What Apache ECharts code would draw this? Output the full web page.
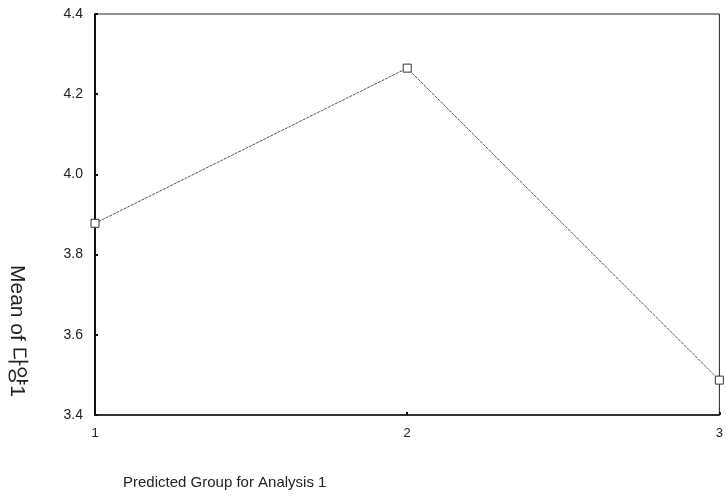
<!DOCTYPE html>
<html><head><meta charset="utf-8">
<script src="https://cdn.jsdelivr.net/npm/echarts@6/dist/echarts.min.js"></script>
<style>html,body{margin:0;padding:0;background:#fff}#c{width:726px;height:499px}</style>
</head><body><div id="c"></div>
<script>
const categories = ['1', '2', '3'];
const meanValues = [3.878, 4.265, 3.487];
const yTicks = [3.4, 3.6, 3.8, 4.0, 4.2, 4.4];
const xTitle = 'Predicted Group for Analysis 1';
const yTitle = 'Mean of 다양1';

const chart = echarts.init(document.getElementById('c'));
const font = 'Liberation Sans, Arial, sans-serif';
chart.setOption({
  animation: false,
  backgroundColor: '#fff',
  grid: { left: 95, right: 3, top: 14, bottom: 84, show: true, borderColor: '#222', borderWidth: 1 },
  xAxis: {
    type: 'category', data: categories, boundaryGap: false,
    axisLine: { lineStyle: { color: '#111', width: 1.5 } },
    axisTick: { inside: true, length: 3, lineStyle: { color: '#111', width: 2 } },
    axisLabel: { color: '#222', fontFamily: font, fontSize: 13, margin: 12 },
    splitLine: { show: false }
  },
  yAxis: {
    type: 'value', min: yTicks[0], max: yTicks[yTicks.length - 1], interval: 0.2,
    axisLine: { show: true, lineStyle: { color: '#111', width: 2 } },
    axisTick: { show: true, inside: true, length: 3, lineStyle: { color: '#111', width: 2 } },
    axisLabel: { color: '#222', fontFamily: font, fontSize: 14, margin: 12,
      formatter: v => v.toFixed(1) },
    splitLine: { show: false }
  },
  graphic: [
    { type: 'text', left: 123, top: 475,
      style: { text: xTitle, font: '15px ' + font, fill: '#222' } },
    { type: 'text', x: 27, y: 265, rotation: -Math.PI / 2,
      style: { text: yTitle, font: '21px Liberation Sans, Arial, "Noto Sans CJK KR", sans-serif', fill: '#222' } }
  ],
  series: [{
    type: 'line', data: meanValues,
    symbol: 'rect', symbolSize: 8,
    itemStyle: { color: '#fff', borderColor: '#333', borderWidth: 1 },
    lineStyle: { color: '#555', width: 1, type: [3, 1] }
  }]
});
</script></body></html>
